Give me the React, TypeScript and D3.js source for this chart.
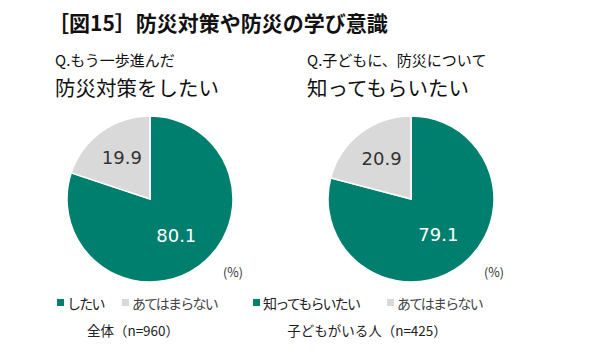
import React from "react";
import * as d3 from "d3";

const chartTitle = "［図15］防災対策や防災の学び意識";
const questionsLine1 = ["Q.もう一歩進んだ", "Q.子どもに、防災について"];
const questionsLine2 = ["防災対策をしたい", "知ってもらいたい"];
const seriesYes = ["したい", "知ってもらいたい"];
const seriesNo = ["あてはまらない", "あてはまらない"];
const valuesYes = [80.1, 79.1];
const valuesNo = [19.9, 20.9];
const footers = ["全体（n=960）", "子どもがいる人（n=425）"];

const TEAL = "#007F6E";
const GRAY = "#D9D9D9";
const FONT = "'Noto Sans CJK JP', 'Noto Sans', sans-serif";
const NUMFONT = "'DejaVu Sans', sans-serif";

export default function App() {
  const W = 590, H = 353;
  const centers = [150, 411];
  const cy = 199;
  const r = 83;
  const pie = d3.pie<number>().sort(null).value((d) => d);
  const arc = d3.arc<d3.PieArcDatum<number>>().innerRadius(0).outerRadius(r);
  const labelArcYes = d3.arc<d3.PieArcDatum<number>>().innerRadius(r * 0.5).outerRadius(r * 0.5);
  const labelArcNo = d3.arc<d3.PieArcDatum<number>>().innerRadius(r * 0.62).outerRadius(r * 0.62);
  const legendX = [
    [57, 122],
    [253, 387],
  ];
  const qx = [55, 307];
  const footerX = [133, 367];

  return (
    <svg width={W} height={H} style={{ position: "absolute", left: 0, top: 0, background: "#fff" }} fontFamily={FONT}>
      <text x={48} y={31} fontSize={21} fontWeight="bold" fill="#111">{chartTitle}</text>
      {centers.map((cx, i) => {
        const arcs = pie([valuesYes[i], valuesNo[i]]);
        const yesC = labelArcYes.centroid(arcs[0]);
        const noC = labelArcNo.centroid(arcs[1]);
        return (
          <g key={i}>
            <text x={qx[i]} y={66} fontSize={15} fill="#111">{questionsLine1[i]}</text>
            <text x={qx[i]} y={96} fontSize={20.5} fill="#111">{questionsLine2[i]}</text>
            <g transform={`translate(${cx},${cy})`}>
              {arcs.map((a, j) => (
                <path key={j} d={arc(a) || ""} fill={j === 0 ? TEAL : GRAY} stroke="#fff" strokeWidth={1.5} />
              ))}
              <text x={yesC[0] + 2} y={yesC[1] + 4} fontSize={18} fontFamily={NUMFONT} fill="#fff" textAnchor="middle" dominantBaseline="middle">{valuesYes[i].toFixed(1)}</text>
              <text x={noC[0] + 2} y={noC[1] + 2} fontSize={18} fontFamily={NUMFONT} fill="#333" textAnchor="middle" dominantBaseline="middle">{valuesNo[i].toFixed(1)}</text>
            </g>
            <text x={cx + r} y={277} fontSize={12.5} fill="#333" textAnchor="middle">(%)</text>
            <rect x={legendX[i][0]} y={299} width={7} height={7} fill={TEAL} />
            <text x={legendX[i][0] + 10} y={308.5} fontSize={14} letterSpacing={-1.8} fill="#222">{seriesYes[i]}</text>
            <rect x={legendX[i][1]} y={299} width={7} height={7} fill={GRAY} />
            <text x={legendX[i][1] + 10} y={308.5} fontSize={14} letterSpacing={-1.8} fill="#444">{seriesNo[i]}</text>
            <text x={footerX[i]} y={336} fontSize={13.5} fill="#222" textAnchor="middle">{footers[i]}</text>
          </g>
        );
      })}
    </svg>
  );
}
